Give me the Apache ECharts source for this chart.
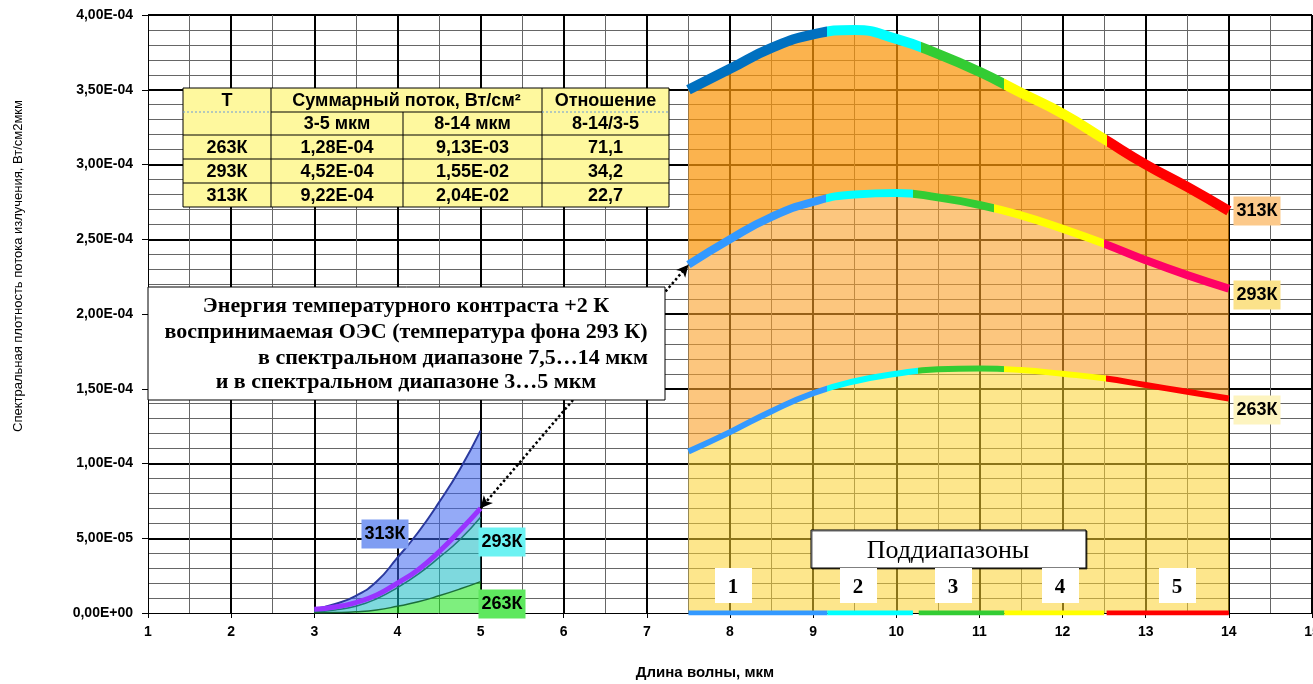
<!DOCTYPE html>
<html><head><meta charset="utf-8">
<script src="https://cdn.jsdelivr.net/npm/echarts@6/dist/echarts.min.js"></script>
<style>html,body{margin:0;padding:0;background:#fff}#c{width:1313px;height:684px}</style>
</head><body><div id="c"></div>
<script>
// ---------- DATA ----------
const xTicks = [1,2,3,4,5,6,7,8,9,10,11,12,13,14,15];
// 7.5...14 um
const xRight = [7.5,8,8.5,9,9.5,10,10.5,11,11.5,12,12.5,13,13.5,14];
const r313 = [3.50e-4,3.64e-4,3.78e-4,3.87e-4,3.90e-4,3.84e-4,3.74e-4,3.62e-4,3.48e-4,3.34e-4,3.17e-4,3.00e-4,2.85e-4,2.69e-4];
const r293 = [2.33e-4,2.50e-4,2.65e-4,2.75e-4,2.80e-4,2.81e-4,2.78e-4,2.73e-4,2.66e-4,2.57e-4,2.47e-4,2.36e-4,2.26e-4,2.17e-4];
const r263 = [1.08e-4,1.21e-4,1.35e-4,1.47e-4,1.55e-4,1.60e-4,1.63e-4,1.635e-4,1.625e-4,1.60e-4,1.57e-4,1.525e-4,1.48e-4,1.435e-4];
// 3...5 um
const xLeft = [3,3.25,3.5,3.75,4,4.25,4.5,4.75,5];
const l313 = [0.25e-5,0.6e-5,1.15e-5,2.1e-5,3.7e-5,5.4e-5,7.4e-5,9.6e-5,12.2e-5];
const l295 = [0.25e-5,0.4e-5,0.7e-5,1.2e-5,2.0e-5,2.9e-5,4.1e-5,5.5e-5,7.0e-5];
const l293 = [0.08e-5,0.2e-5,0.45e-5,0.95e-5,1.7e-5,2.6e-5,3.7e-5,4.9e-5,6.4e-5];
const l263 = [0.01e-5,0.03e-5,0.08e-5,0.2e-5,0.45e-5,0.75e-5,1.15e-5,1.6e-5,2.1e-5];
// sub-band boundaries (um)
const brk313 = [9.17,10.3,11.3,12.53];
const brk293 = [9.16,10.2,11.17,12.5];
const brk263 = [9.17,10.26,11.3,12.52];
const bandNames = ['1','2','3','4','5'];
const bandStart = [7.5,9.17,10.27,11.3,12.53];
const bandEnd   = [9.17,10.2,11.3,12.5,14];
// table
const tblHead1 = ['T','Суммарный поток, Вт/см²','Отношение'];
const tblHead2 = ['','3-5 мкм','8-14 мкм','8-14/3-5'];
const tblTemps = ['263К','293К','313К'];
const tblFlux35 = ['1,28E-04','4,52E-04','9,22E-04'];
const tblFlux814 = ['9,13E-03','1,55E-02','2,04E-02'];
const tblRatio = ['71,1','34,2','22,7'];
const noteLines = ['Энергия температурного контраста +2 К','воспринимаемая ОЭС (температура фона 293 К)','в спектральном диапазоне 7,5…14 мкм','и в спектральном диапазоне 3…5 мкм'];

// ---------- STYLE ----------
const col313 = ['#0070C0','#00FFFF','#33CC33','#FFFF00','#FF0000'];
const col293 = ['#3399FF','#00FFFF','#33CC33','#FFFF00','#FF0066'];
const col263 = ['#3399FF','#00FFFF','#33CC33','#FFFF00','#FF0000'];
const SANS = '"Liberation Sans", Arial, sans-serif';
const SERIF = '"Liberation Serif", "Times New Roman", serif';

function fmtE(v){
  if (Math.abs(v) < 1e-12) return '0,00E+00';
  const s = v.toExponential(2); const p = s.split('e');
  const sign = p[1][0]==='-' ? '-' : '+';
  let d = p[1].replace(/[+-]/,''); if (d.length<2) d='0'+d;
  return p[0].replace('.',',')+'E'+sign+d;
}
const pairs = (xs, ys) => xs.map((x,i)=>[x, ys[i]]);
// value first, wavelength second, so that stacking acts on the value dimension
const vpairs = (xs, ys) => xs.map((x,i)=>[ys[i], x]);
const diff = (a,b) => a.map((v,i)=>v-b[i]);
function pieces(brk, cols){
  const p=[{lt:brk[0], color:cols[0]}];
  for(let i=0;i<brk.length-1;i++) p.push({gte:brk[i], lt:brk[i+1], color:cols[i+1]});
  p.push({gte:brk[brk.length-1], color:cols[cols.length-1]});
  return p;
}
function area(data, stack, color){
  return {type:'line', data, stack, encode:{x:1, y:0}, smooth:true, symbol:'none', silent:true, z:1,
    lineStyle:{width:0, opacity:0}, areaStyle:{color, opacity:1}};
}
function line(data, color, width, z){
  return {type:'line', data, smooth:true, symbol:'none', silent:true, z:z||3,
    lineStyle:{color, width, cap:'butt'}, itemStyle:{color}};
}
function vline(data, width){
  return {type:'line', data, smooth:true, symbol:'none', silent:true, z:3,
    lineStyle:{width, cap:'butt'}};
}

const series = [];
series.push(area(vpairs(xRight, r263), 'R', 'rgba(251,209,45,0.55)'));
series.push(area(vpairs(xRight, diff(r293, r263)), 'R', 'rgba(250,160,40,0.6)'));
series.push(area(vpairs(xRight, diff(r313, r293)), 'R', 'rgba(250,150,10,0.72)'));
series.push(area(vpairs(xLeft, l263), 'L', 'rgba(20,225,20,0.55)'));
series.push(area(vpairs(xLeft, diff(l293, l263)), 'L', 'rgba(20,185,195,0.55)'));
series.push(area(vpairs(xLeft, diff(l313, l293)), 'L', 'rgba(60,100,240,0.55)'));
const iR313 = series.length; series.push(vline(pairs(xRight, r313), 10));
const iR293 = series.length; series.push(vline(pairs(xRight, r293), 8));
const iR263 = series.length; series.push(vline(pairs(xRight, r263), 6));
series.push(line(pairs(xLeft, l313), '#2B3A9E', 2));
series.push(line(pairs(xLeft, l293), '#1E7A7A', 1.5));
series.push(line(pairs(xLeft, l263), '#1B6E3A', 1.5));
const s295 = line(pairs(xLeft, l295), '#9933FF', 5, 4);
s295.markLine = {silent:true, symbol:['arrow','arrow'], symbolSize:[9,12], z:5,
  lineStyle:{color:'#000', type:'dotted', width:2.5}, label:{show:false},
  data:[[{coord:[xLeft[xLeft.length-1], l295[l295.length-1]]},{coord:[xRight[0], r293[0]]}]]};
series.push(s295);
bandStart.forEach((s,i)=>{
  series.push({type:'line', data:[[s,0],[bandEnd[i],0]], symbol:'none', silent:true, z:4,
    lineStyle:{color:col263[i], width:5, cap:'butt'}});
});

// ---------- GRAPHICS ----------
const G = [];
// table
const tc = [183,271,403,542,669], tr = [88,112,135,159,183,207];
G.push({type:'rect', shape:{x:tc[0],y:tr[0],width:tc[4]-tc[0],height:tr[5]-tr[0]}, style:{fill:'#FEF89E', stroke:'#000', lineWidth:1}, z:100});
[[tc[1],tr[0],tr[5]],[tc[2],tr[1],tr[5]],[tc[3],tr[0],tr[5]]].forEach(v=>G.push({type:'line', shape:{x1:v[0],y1:v[1],x2:v[0],y2:v[2]}, style:{stroke:'#000',lineWidth:1}, z:101}));
G.push({type:'line', shape:{x1:tc[1],y1:tr[1],x2:tc[3],y2:tr[1]}, style:{stroke:'#000',lineWidth:1}, z:101});
G.push({type:'line', shape:{x1:tc[0],y1:tr[1],x2:tc[1],y2:tr[1]}, style:{stroke:'#6A9AD8',lineWidth:1,lineDash:[2,2]}, z:101});
G.push({type:'line', shape:{x1:tc[3],y1:tr[1],x2:tc[4],y2:tr[1]}, style:{stroke:'#6A9AD8',lineWidth:1,lineDash:[2,2]}, z:101});
[2,3,4].forEach(r=>G.push({type:'line', shape:{x1:tc[0],y1:tr[r],x2:tc[4],y2:tr[r]}, style:{stroke:'#000',lineWidth:1}, z:101}));
function cell(text, x, y){ G.push({type:'text', x, y, style:{text, font:'bold 18px '+SANS, fill:'#000', align:'center', verticalAlign:'middle'}, z:102}); }
const mid = (a,b)=>(a+b)/2;
cell(tblHead1[0], mid(tc[0],tc[1]), mid(tr[0],tr[1])+1);
cell(tblHead1[1], mid(tc[1],tc[3]), mid(tr[0],tr[1])+1);
cell(tblHead1[2], mid(tc[3],tc[4]), mid(tr[0],tr[1])+1);
tblHead2.forEach((t,i)=>cell(t, mid(tc[i],tc[i+1]), mid(tr[1],tr[2])+1));
tblTemps.forEach((t,r)=>{
  const y = mid(tr[r+2],tr[r+3])+1;
  cell(t, mid(tc[0],tc[1]), y); cell(tblFlux35[r], mid(tc[1],tc[2]), y);
  cell(tblFlux814[r], mid(tc[2],tc[3]), y); cell(tblRatio[r], mid(tc[3],tc[4]), y);
});
// note box
G.push({type:'rect', shape:{x:148,y:287,width:517,height:113}, style:{fill:'#fff', stroke:'#000', lineWidth:1}, z:100});
const noteY = [306,332,358,382];
noteLines.forEach((t,i)=>{
  G.push({type:'text', x: i===2 ? 648 : 406, y: noteY[i], style:{text:t, font:'bold 22px '+SERIF, fill:'#000', align: i===2?'right':'center', verticalAlign:'middle'}, z:102});
});
// subband title
G.push({type:'rect', shape:{x:811,y:530,width:275,height:38}, style:{fill:'#fff', stroke:'#000', lineWidth:1, shadowColor:'rgba(0,0,0,0.6)', shadowOffsetX:1, shadowOffsetY:1}, z:100});
G.push({type:'text', x:948, y:551, style:{text:'Поддиапазоны', font:'26px '+SERIF, fill:'#000', align:'center', verticalAlign:'middle'}, z:102});
const numX = [733,858,953,1060,1177];
bandNames.forEach((t,i)=>{
  G.push({type:'rect', shape:{x:numX[i]-18,y:568,width:37,height:35}, style:{fill:'#fff'}, z:100});
  G.push({type:'text', x:numX[i], y:588, style:{text:t, font:'bold 21px '+SERIF, fill:'#000', align:'center', verticalAlign:'middle'}, z:102});
});
// temperature labels
function tlabel(t, x, y, bg){
  G.push({type:'text', x, y, style:{text:t, font:'bold 18px '+SANS, fill:'#000', align:'center', verticalAlign:'middle', backgroundColor:bg, padding:[6,3,5,3]}, z:102});
}
tlabel('313К', 1257, 211, '#FCC98A');
tlabel('293К', 1257, 295, '#FBE28A');
tlabel('263К', 1257, 410, '#FDF4C0');
tlabel('313К', 385, 534, '#7F9DF2');
tlabel('293К', 502, 542, '#6CF2F2');
tlabel('263К', 502, 604, '#5EE85E');
// axis titles
G.push({type:'text', x:18, y:266, rotation:Math.PI/2, style:{text:'Спектральная плотность потока излучения, Вт/см2мкм', font:'13px '+SANS, fill:'#000', align:'center', verticalAlign:'middle'}, z:102});
G.push({type:'text', x:705, y:673, style:{text:'Длина волны, мкм', font:'bold 15px '+SANS, fill:'#000', align:'center', verticalAlign:'middle'}, z:102});

const visualMap = [
  {type:'piecewise', show:false, dimension:0, seriesIndex:iR313, pieces:pieces(brk313,col313)},
  {type:'piecewise', show:false, dimension:0, seriesIndex:iR293, pieces:pieces(brk293,col293)},
  {type:'piecewise', show:false, dimension:0, seriesIndex:iR263, pieces:pieces(brk263,col263)}
];

const chart = echarts.init(document.getElementById('c'), null, {renderer:'canvas'});
chart.setOption({
  animation:false,
  backgroundColor:'#fff',
  grid:{left:148, right:1, top:15, bottom:71, containLabel:false, outerBoundsMode:'none'},
  xAxis:{type:'value', min:xTicks[0], max:xTicks[xTicks.length-1], interval:1,
    axisLine:{show:true, onZero:false, lineStyle:{color:'#000', width:1}},
    axisTick:{show:true, length:5, lineStyle:{color:'#000'}},
    minorTick:{show:false, splitNumber:2},
    axisLabel:{color:'#000', fontSize:14, fontWeight:'bold', fontFamily:SANS, margin:12, showMaxLabel:true, hideOverlap:false},
    splitLine:{show:true, showMinLine:false, lineStyle:{color:'#000', width:2}},
    minorSplitLine:{show:true, lineStyle:{color:'#666', width:1}}
  },
  yAxis:{type:'value', min:0, max:4e-4, interval:5e-5,
    axisLine:{show:true, lineStyle:{color:'#000', width:1}},
    axisTick:{show:true, length:6, lineStyle:{color:'#000'}},
    minorTick:{show:false, splitNumber:5},
    axisLabel:{color:'#000', fontSize:14, fontWeight:'bold', fontFamily:SANS, margin:15, formatter:fmtE},
    splitLine:{show:true, showMinLine:false, lineStyle:{color:'#000', width:2}},
    minorSplitLine:{show:true, lineStyle:{color:'#666', width:1}}
  },
  visualMap,
  series,
  graphic: G
});
</script></body></html>
